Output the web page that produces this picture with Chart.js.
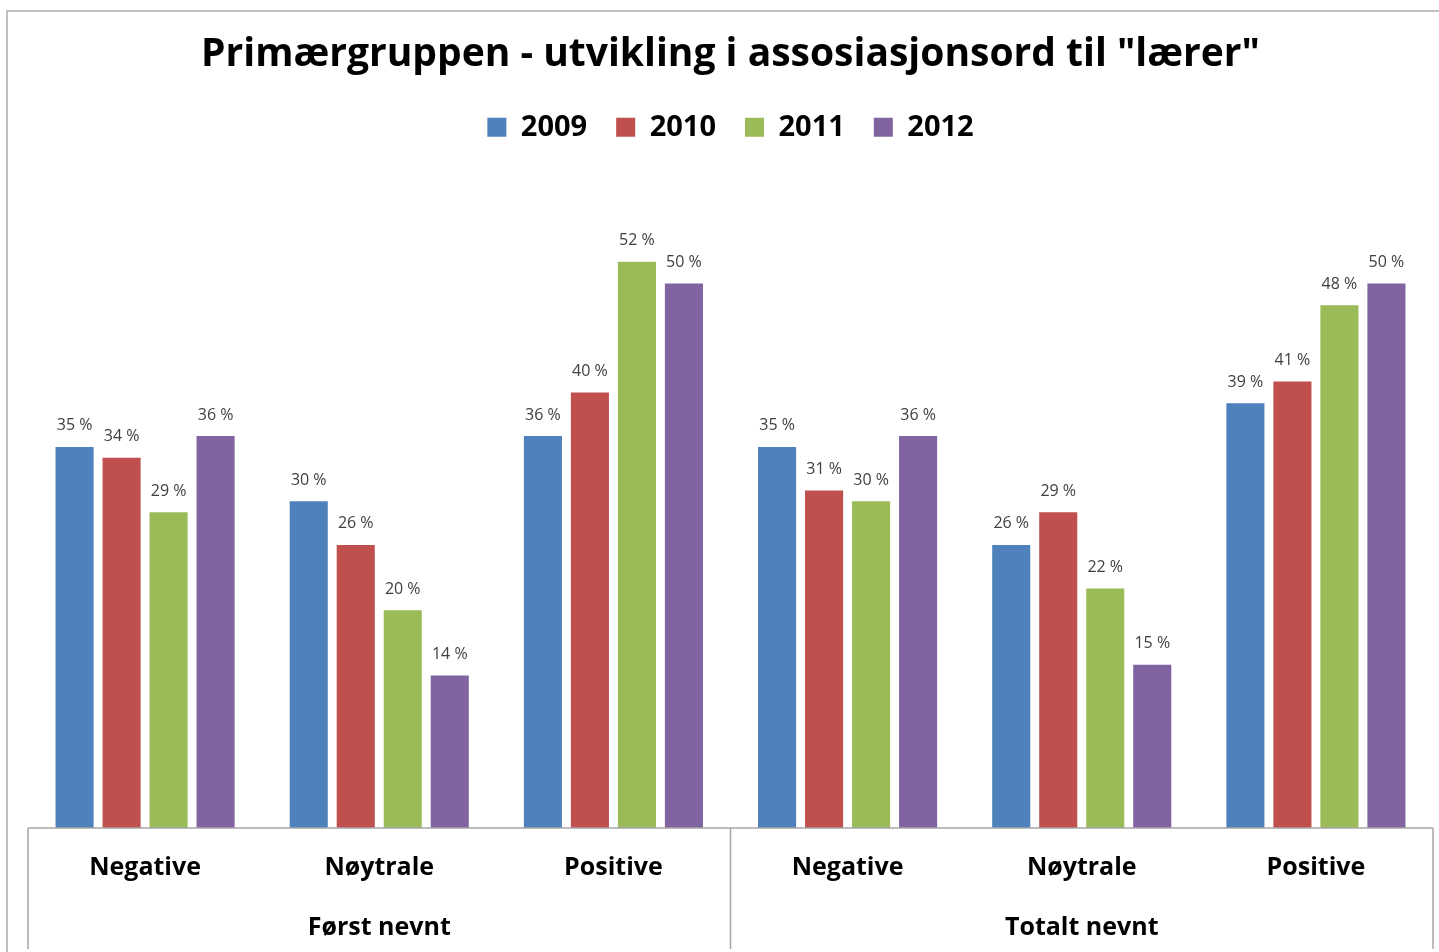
<!DOCTYPE html>
<html>
<head>
<meta charset="utf-8">
<script src="https://cdn.jsdelivr.net/npm/chart.js@4.4.0/dist/chart.umd.min.js"></script>
<style>
  html, body { margin: 0; padding: 0; background: #fff; }
  #wrap { width: 1439px; height: 952px; }
</style>
</head>
<body>
<div id="wrap"><canvas id="chart" width="1439" height="952"></canvas></div>
<script>
// --- DADOS ---
const categories = ['Negative', 'Nøytrale', 'Positive', 'Negative', 'Nøytrale', 'Positive'];
const groups = ['Først nevnt', 'Totalt nevnt'];
const years = ['2009', '2010', '2011', '2012'];
const values2009 = [35, 30, 36, 35, 26, 39];
const values2010 = [34, 26, 40, 31, 29, 41];
const values2011 = [29, 20, 52, 30, 22, 48];
const values2012 = [36, 14, 50, 36, 15, 50];
const colors = ['#4F81BD', '#C0504D', '#9BBB59', '#8064A2'];

const FONT = '"Open Sans", "Noto Sans", sans-serif';

// desenha moldura, rótulos de valores e eixo de duas linhas
const extrasPlugin = {
    id: 'extras',
    beforeDraw(chart) {
        const ctx = chart.ctx;
        ctx.save();
        ctx.strokeStyle = '#bfbfbf';
        ctx.lineWidth = 2;
        ctx.beginPath();
        ctx.moveTo(7, 952);
        ctx.lineTo(7, 11);
        ctx.lineTo(1439, 11);
        ctx.stroke();
        ctx.restore();
    },
    afterDatasetsDraw(chart) {
        const ctx = chart.ctx;
        ctx.save();
        ctx.font = '16px ' + FONT;
        ctx.fillStyle = '#404040';
        ctx.textAlign = 'center';
        ctx.textBaseline = 'middle';
        chart.data.datasets.forEach((ds, i) => {
            chart.getDatasetMeta(i).data.forEach((bar, j) => {
                ctx.fillText(ds.data[j] + ' %', bar.x, bar.y - 21);
            });
        });
        ctx.restore();
    },
    afterDraw(chart) {
        const ctx = chart.ctx;
        const area = chart.chartArea;
        const xScale = chart.scales.x;
        const bottom = area.bottom;
        ctx.save();
        // linhas do eixo
        ctx.strokeStyle = '#a6a6a6';
        ctx.lineWidth = 1.5;
        ctx.beginPath();
        ctx.moveTo(area.left, bottom);
        ctx.lineTo(area.right, bottom);
        const mid = (area.left + area.right) / 2;
        [area.left, mid, area.right].forEach(x => {
            ctx.moveTo(x, bottom);
            ctx.lineTo(x, bottom + 121);
        });
        ctx.stroke();

        ctx.fillStyle = '#000';
        ctx.font = '700 25px ' + FONT;
        ctx.textAlign = 'center';
        ctx.textBaseline = 'middle';
        categories.forEach((c, i) => {
            ctx.fillText(c, xScale.getPixelForValue(i), bottom + 40);
        });
        groups.forEach((g, k) => {
            const x = (xScale.getPixelForValue(k * 3) + xScale.getPixelForValue(k * 3 + 2)) / 2;
            ctx.fillText(g, x, bottom + 100);
        });
        ctx.restore();
    }
};

const datasets = [values2009, values2010, values2011, values2012].map((vals, i) => ({
    label: years[i],
    data: vals,
    backgroundColor: colors[i],
    borderWidth: 0,
    categoryPercentage: 0.803,
    barPercentage: 0.81
}));

new Chart(document.getElementById('chart').getContext('2d'), {
    type: 'bar',
    data: { labels: categories, datasets: datasets },
    options: {
        responsive: false,
        animation: false,
        layout: { padding: { left: 28, right: 6, top: 0, bottom: 116 } },
        plugins: {
            title: {
                display: true,
                text: 'Primærgruppen - utvikling i assosiasjonsord til "lærer"',
                color: '#000',
                font: { family: FONT, size: 39, weight: '700' },
                padding: { top: 31, bottom: 6 }
            },
            legend: {
                position: 'top',
                labels: {
                    color: '#000',
                    boxWidth: 19,
                    boxHeight: 19,
                    padding: 29,
                    font: { family: FONT, size: 29, weight: '700' }
                }
            },
            tooltip: { enabled: false }
        },
        scales: {
            x: {
                grid: { display: false },
                border: { display: false },
                ticks: { display: false }
            },
            y: {
                display: false,
                min: 0,
                max: 62.1
            }
        }
    },
    plugins: [extrasPlugin]
});
</script>
</body>
</html>
